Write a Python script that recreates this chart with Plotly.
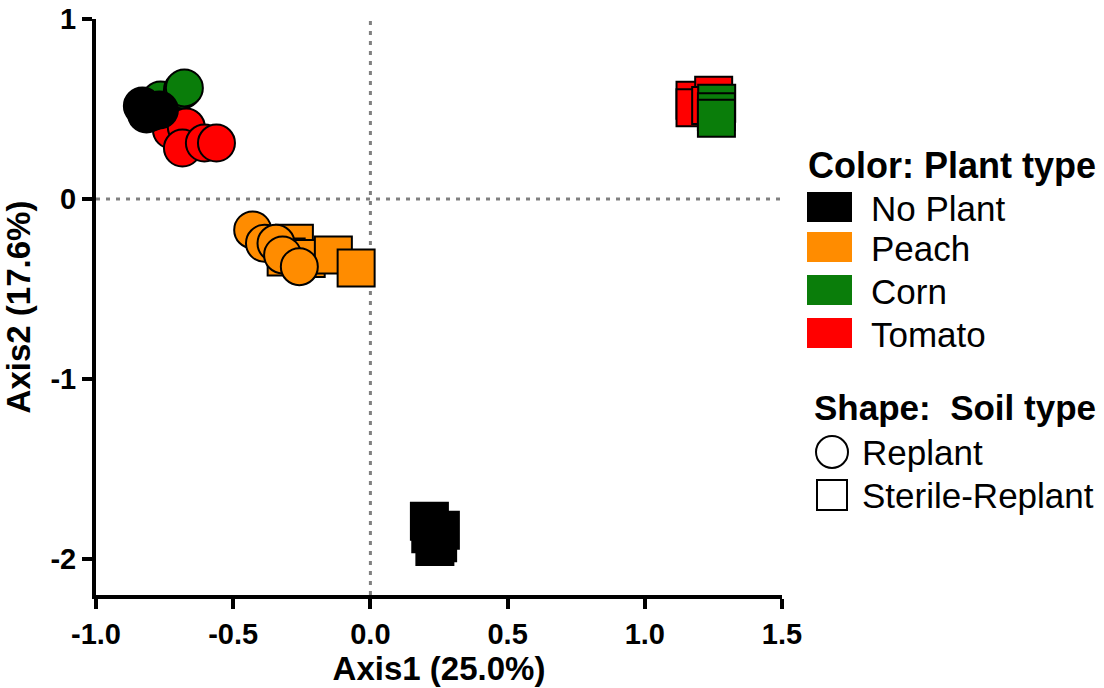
import plotly.graph_objects as go

# ---------------- data ----------------
plant_types = ["No Plant", "Peach", "Corn", "Tomato"]
plant_colors = ["#000000", "#FF8C00", "#0A7D0A", "#FF0000"]
soil_types = ["Replant", "Sterile-Replant"]

noplant_replant_x = [-0.831, -0.798, -0.769, -0.816]
noplant_replant_y = [0.517, 0.483, 0.494, 0.472]
noplant_sterile_x = [0.215, 0.255, 0.235, 0.245, 0.220]
noplant_sterile_y = [-1.79, -1.84, -1.93, -1.91, -1.86]

peach_replant_x = [-0.429, -0.386, -0.344, -0.320, -0.259]
peach_replant_y = [-0.172, -0.246, -0.246, -0.311, -0.376]
peach_sterile_x = [-0.277, -0.307, -0.234, -0.135, -0.052]
peach_sterile_y = [-0.246, -0.322, -0.330, -0.311, -0.383]

corn_replant_x = [-0.740, -0.765, -0.685, -0.678]
corn_replant_y = [0.530, 0.550, 0.606, 0.617]
corn_sterile_x = [1.262, 1.261, 1.261]
corn_sterile_y = [0.532, 0.485, 0.448]

tomato_replant_x = [-0.725, -0.671, -0.685, -0.605, -0.561]
tomato_replant_y = [0.383, 0.400, 0.283, 0.311, 0.311]
tomato_sterile_x = [1.183, 1.183, 1.251, 1.240]
tomato_sterile_y = [0.548, 0.507, 0.577, 0.520]

x_ticks = [-1.0, -0.5, 0.0, 0.5, 1.0, 1.5]
x_ticktext = ["-1.0", "-0.5", "0.0", "0.5", "1.0", "1.5"]
y_ticks = [1, 0, -1, -2]
y_ticktext = ["1", "0", "-1", "-2"]

FONT = "Liberation Sans, Arial, Helvetica, sans-serif"
W, H = 1104, 688
ML, MR, MT, MB = 96, 322, 19, 93
PW, PH = W - ML - MR, H - MT - MB

fig = go.Figure()

def add(xs, ys, color, symbol):
    fig.add_trace(go.Scatter(
        x=xs, y=ys, mode="markers", showlegend=False, cliponaxis=False,
        marker=dict(size=37, color=color, symbol=symbol,
                    line=dict(color="black", width=2))))

# draw order: squares, then circles; black on top
add(tomato_sterile_x, tomato_sterile_y, plant_colors[3], "square")
add(corn_sterile_x, corn_sterile_y, plant_colors[2], "square")
add(peach_sterile_x, peach_sterile_y, plant_colors[1], "square")
add(corn_replant_x, corn_replant_y, plant_colors[2], "circle")
add(tomato_replant_x, tomato_replant_y, plant_colors[3], "circle")
add(peach_replant_x, peach_replant_y, plant_colors[1], "circle")
add(noplant_replant_x, noplant_replant_y, plant_colors[0], "circle")
add(noplant_sterile_x, noplant_sterile_y, plant_colors[0], "square")

def px(xp):
    return (xp - ML) / PW

def py(yp):
    return (H - MB - yp) / PH

shapes = [
    dict(type="line", xref="x", yref="paper", x0=0, x1=0, y0=0, y1=1,
         line=dict(color="#808080", width=3, dash="4px,6px"), layer="below"),
    dict(type="line", xref="paper", yref="y", x0=0, x1=1, y0=0, y1=0,
         line=dict(color="#808080", width=3, dash="4px,6px"), layer="below"),
]
annotations = []

# legend: colours
annotations.append(dict(xref="paper", yref="paper", x=px(806), y=py(165),
                        xanchor="left", yanchor="middle", showarrow=False,
                        text="<b>Color: Plant type</b>",
                        font=dict(family=FONT, size=36, color="black")))
sw_tops = [192, 232, 275, 318]
for i, (name, col) in enumerate(zip(plant_types, plant_colors)):
    t = sw_tops[i]
    shapes.append(dict(type="rect", xref="paper", yref="paper",
                       x0=px(807), x1=px(852), y0=py(t + 30), y1=py(t),
                       fillcolor=col, line=dict(width=0)))
    annotations.append(dict(xref="paper", yref="paper", x=px(869), y=py(t + 16),
                            xanchor="left", yanchor="middle", showarrow=False,
                            text=name, font=dict(family=FONT, size=35, color="black")))

# legend: shapes
annotations.append(dict(xref="paper", yref="paper", x=px(812), y=py(407),
                        xanchor="left", yanchor="middle", showarrow=False,
                        text="<b>Shape:  Soil type</b>",
                        font=dict(family=FONT, size=35, color="black")))
shapes.append(dict(type="circle", xref="paper", yref="paper",
                   x0=px(816), x1=px(848), y0=py(468), y1=py(436),
                   fillcolor="white", line=dict(color="black", width=2)))
annotations.append(dict(xref="paper", yref="paper", x=px(860), y=py(452),
                        xanchor="left", yanchor="middle", showarrow=False,
                        text=soil_types[0], font=dict(family=FONT, size=35, color="black")))
shapes.append(dict(type="rect", xref="paper", yref="paper",
                   x0=px(817), x1=px(847), y0=py(510), y1=py(480),
                   fillcolor="white", line=dict(color="black", width=2)))
annotations.append(dict(xref="paper", yref="paper", x=px(860), y=py(495),
                        xanchor="left", yanchor="middle", showarrow=False,
                        text=soil_types[1], font=dict(family=FONT, size=35, color="black")))

axis_common = dict(showline=True, linecolor="black", linewidth=4, ticks="outside",
                   ticklen=10, tickwidth=4, tickcolor="black", showgrid=False,
                   zeroline=False, mirror=False,
                   tickfont=dict(family=FONT, size=29, color="black", weight="bold"))

fig.update_layout(
    width=W, height=H, margin=dict(l=ML, r=MR, t=MT, b=MB, autoexpand=False),
    plot_bgcolor="white", paper_bgcolor="white",
    shapes=shapes, annotations=annotations,
    xaxis=dict(range=[-1.0, 1.5], tickvals=x_ticks, ticktext=x_ticktext,
               title=dict(text="<b>Axis1 (25.0%)</b>", standoff=4,
                          font=dict(family=FONT, size=33, color="black")),
               **axis_common),
    yaxis=dict(range=[-2.2, 1.0], tickvals=y_ticks, ticktext=y_ticktext,
               title=dict(text="<b>Axis2 (17.6%)</b>", standoff=12,
                          font=dict(family=FONT, size=33, color="black")),
               **axis_common),
)

fig.write_html("out.html")
